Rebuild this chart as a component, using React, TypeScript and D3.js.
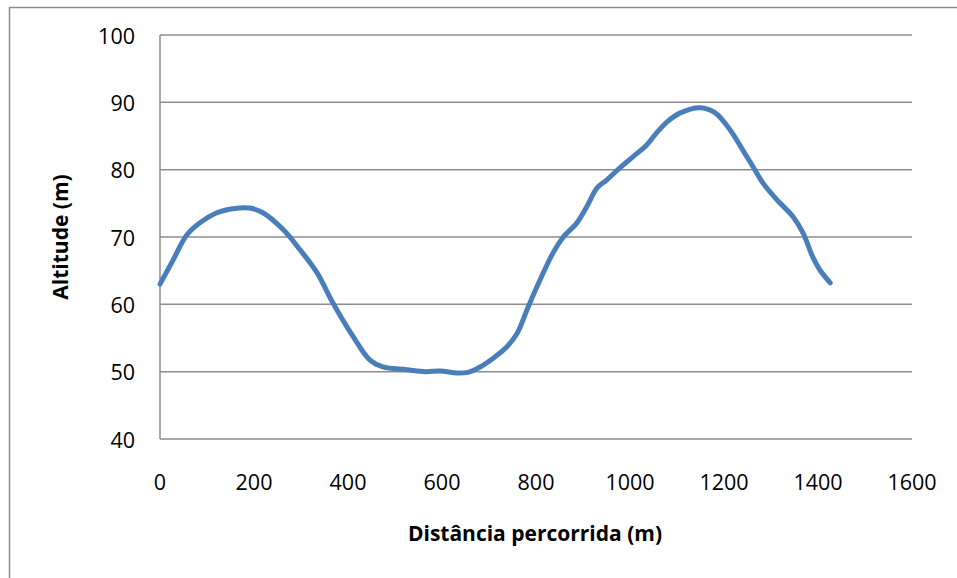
import React from "react";
import * as d3 from "d3";

const distance = [0, 28, 57, 85, 121, 155, 191, 219, 262, 298, 334, 368, 411, 447, 474, 525, 565, 596, 632, 655, 681, 709, 738, 760, 781, 802, 836, 857, 887, 908, 930, 951, 979, 1006, 1036, 1057, 1079, 1106, 1149, 1180, 1213, 1240, 1262, 1283, 1313, 1347, 1368, 1389, 1404, 1426];
const altitude = [63, 66.6, 70.3, 72.1, 73.6, 74.2, 74.3, 73.6, 71.1, 68.1, 64.7, 60.2, 55.2, 51.7, 50.7, 50.3, 50.0, 50.1, 49.8, 49.9, 50.7, 52, 53.7, 55.7, 59.2, 62.6, 67.6, 69.9, 72.1, 74.5, 77.3, 78.5, 80.3, 81.9, 83.7, 85.5, 87.1, 88.4, 89.2, 88.5, 85.9, 82.9, 80.4, 78, 75.5, 73, 70.6, 67, 65.1, 63.2];
const xTicks = [0, 200, 400, 600, 800, 1000, 1200, 1400, 1600];
const yTicks = [40, 50, 60, 70, 80, 90, 100];
const xTitle = "Distância percorrida (m)";
const yTitle = "Altitude (m)";

const W = 957, H = 578;
const left = 160, right = 912, top = 35, bottom = 439;
const font = "'Open Sans', 'Liberation Sans', sans-serif";

export default function App() {
  const x = d3.scaleLinear().domain([0, 1600]).range([left, right]);
  const y = d3.scaleLinear().domain([40, 100]).range([bottom, top]);
  const pts = distance.map((d, i) => [d, altitude[i]] as [number, number]);
  const line = d3.line<[number, number]>().x(d => x(d[0])).y(d => y(d[1])).curve(d3.curveCatmullRom.alpha(0.5));
  return (
    <svg width={W} height={H} style={{ position: "absolute", left: 0, top: 0, background: "#fff" }}>
      <rect x={0} y={0} width={W} height={H} fill="#fff" />
      <path d={`M${9.5},${H} V${7.5} H${W}`} fill="none" stroke="#8c8c8c" strokeWidth={1.5} />
      {yTicks.map(t => (
        <line key={t} x1={left} x2={right} y1={y(t)} y2={y(t)} stroke="#8c8c8c" strokeWidth={1.5} />
      ))}
      <line x1={left} x2={left} y1={top} y2={bottom} stroke="#8c8c8c" strokeWidth={1.5} />
      {yTicks.map(t => (
        <text key={t} x={135} y={y(t)} textAnchor="end" dominantBaseline="central" fontFamily={font} fontSize={21.5} fill="#000">{t}</text>
      ))}
      {xTicks.map(t => (
        <text key={t} x={x(t)} y={481} textAnchor="middle" dominantBaseline="central" fontFamily={font} fontSize={21.5} fill="#000">{t}</text>
      ))}
      <text x={535} y={533} textAnchor="middle" dominantBaseline="central" fontFamily={font} fontWeight="bold" fontSize={21} fill="#000">{xTitle}</text>
      <text transform={`translate(60,237) rotate(-90)`} textAnchor="middle" dominantBaseline="central" fontFamily={font} fontWeight="bold" fontSize={21} fill="#000">{yTitle}</text>
      <path d={line(pts) || ""} fill="none" stroke="#4a7ebb" strokeWidth={5} strokeLinejoin="round" strokeLinecap="round" />
    </svg>
  );
}
